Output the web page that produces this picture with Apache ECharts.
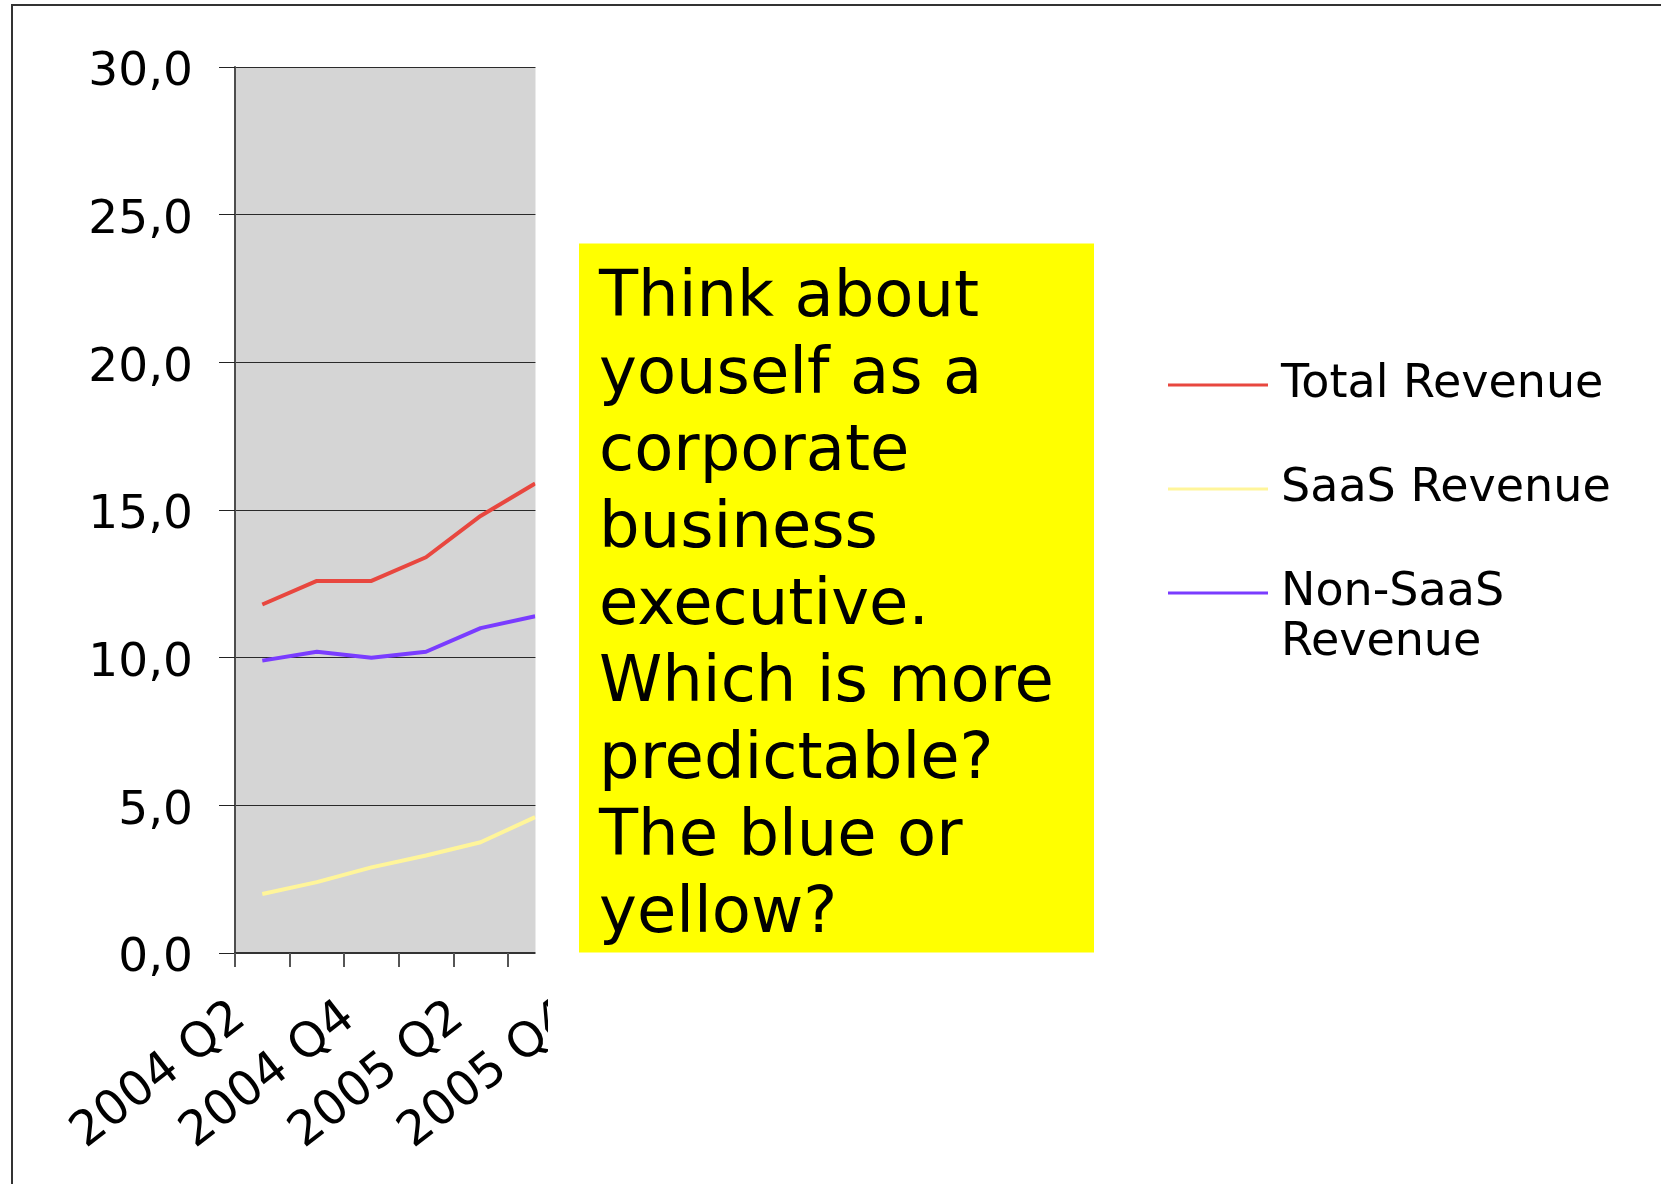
<!DOCTYPE html>
<html>
<head>
<meta charset="utf-8">
<script src="https://cdn.jsdelivr.net/npm/echarts@6/dist/echarts.min.js"></script>
<style>
  html, body { margin: 0; padding: 0; background: #fff; }
  #chart { width: 1661px; height: 1184px; }
</style>
</head>
<body>
<div id="chart"></div>
<script>
// quarters on the x axis (last one is cut off by the note box)
const categories = ['2004 Q2', '2004 Q3', '2004 Q4', '2005 Q1', '2005 Q2', '2005 Q3', '2005 Q4'];
const totalRevenue = [11.8, 12.6, 12.6, 13.4, 14.8, 15.9, null];
const saasRevenue = [2.0, 2.4, 2.9, 3.3, 3.75, 4.6, null];
const nonSaasRevenue = [9.9, 10.2, 10.0, 10.2, 11.0, 11.4, null];
const seriesNames = ['Total Revenue', 'SaaS Revenue', 'Non-SaaS Revenue'];
const yMin = 0, yMax = 30, yStep = 5;

const noteText = 'Think about\nyouself as a\ncorporate\nbusiness\nexecutive.\nWhich is more\npredictable?\nThe blue or\nyellow?';

const font = 'DejaVu Sans';

var chart = echarts.init(document.getElementById('chart'));

let legendText = {
  fontFamily: font,
  fontSize: 46,
  color: '#000',
  lineHeight: 50,
  padding: [0, 0, 0, 8]
};

let option = {
  backgroundColor: '#fff',
  animation: false,
  grid: {
    left: 235,
    top: 67,
    width: 382,
    height: 886,
    show: true,
    backgroundColor: '#d5d5d5',
    borderWidth: 0
  },
  legend: [{
    data: seriesNames.slice(0, 2),
    orient: 'vertical',
    left: 1168,
    top: 360,
    padding: 0,
    itemGap: 54,
    icon: 'rect',
    itemWidth: 100,
    itemHeight: 3,
    textStyle: legendText
  }, {
    data: seriesNames.slice(2),
    orient: 'vertical',
    left: 1168,
    top: 518,
    padding: 0,
    icon: 'rect',
    itemWidth: 100,
    itemHeight: 3,
    // wrapped name, blank first line keeps "Non-SaaS" level with the line icon
    formatter: function (name) {
      return '\n' + name.replace(' ', '\n');
    },
    textStyle: legendText
  }],
  xAxis: {
    type: 'category',
    data: categories,
    boundaryGap: true,
    axisLine: { lineStyle: { color: '#333', width: 2 } },
    axisTick: { show: true, interval: 0, length: 14, lineStyle: { color: '#555', width: 2 } },
    axisLabel: {
      interval: 1,
      rotate: 38,
      margin: 42,
      padding: [0, 28, 0, 0],
      fontFamily: font,
      fontSize: 48,
      color: '#000'
    },
    splitLine: { show: false }
  },
  yAxis: {
    type: 'value',
    min: yMin,
    max: yMax,
    interval: yStep,
    axisLine: { show: true, lineStyle: { color: '#4d4d4d', width: 2 } },
    axisTick: { show: true, length: 16, lineStyle: { color: '#222', width: 1 } },
    axisLabel: {
      margin: 42,
      // labels sit a little below their tick in the original
      verticalAlign: 'top',
      lineHeight: 12,
      fontFamily: font,
      fontSize: 47,
      color: '#000',
      formatter: function (v) { return v.toFixed(1).replace('.', ','); }
    },
    splitLine: { show: true, lineStyle: { color: '#2a2a2a', width: 1 } }
  },
  series: [{
    name: seriesNames[0],
    type: 'line',
    data: totalRevenue,
    symbol: 'none',
    color: '#e8473f',
    lineStyle: { width: 4 }
  }, {
    name: seriesNames[1],
    type: 'line',
    data: saasRevenue,
    symbol: 'none',
    color: '#fff59a',
    lineStyle: { width: 4 }
  }, {
    name: seriesNames[2],
    type: 'line',
    data: nonSaasRevenue,
    symbol: 'none',
    color: '#7a3cff',
    lineStyle: { width: 4 }
  }],
  graphic: [
    // slide frame
    { type: 'rect', z: 50, shape: { x: 12, y: 5, width: 1700, height: 1250 },
      style: { fill: 'none', stroke: '#333', lineWidth: 2 } },
    // the chart is cropped on the right
    { type: 'rect', z: 100, shape: { x: 535.5, y: 40, width: 200, height: 950 }, style: { fill: '#fff' } },
    { type: 'rect', z: 100, shape: { x: 548, y: 990, width: 200, height: 194 }, style: { fill: '#fff' } },
    // yellow note
    { type: 'rect', z: 101, shape: { x: 579, y: 243.5, width: 515, height: 709 }, style: { fill: '#ffff00' } },
    { type: 'text', z: 102, x: 599, y: 261,
      style: { text: noteText, fill: '#000', fontFamily: font, fontSize: 64, lineHeight: 77, verticalAlign: 'top' } }
  ]
};

chart.setOption(option);
</script>
</body>
</html>
